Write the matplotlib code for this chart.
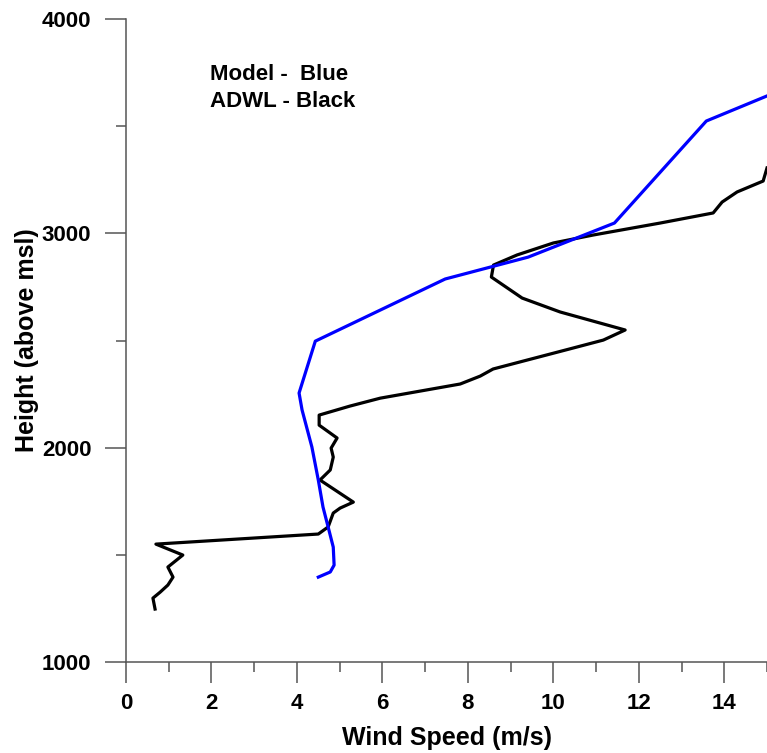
import matplotlib.pyplot as plt
from matplotlib.ticker import MultipleLocator

plt.rcParams['font.family'] = ['Liberation Sans', 'DejaVu Sans']
plt.rcParams['font.weight'] = 'bold'

# model profile (blue)
model_height = [1396, 1420, 1452, 1536, 1630, 1723, 1849, 2003, 2176, 2255,
                2497, 2787, 2889, 3048, 3524, 3641]
model_speed = [4.50, 4.78, 4.87, 4.85, 4.73, 4.61, 4.50, 4.35, 4.12, 4.05,
               4.43, 7.47, 9.41, 11.43, 13.58, 15.0]

# ADWL profile (black)
adwl_height = [1247, 1298, 1326, 1359, 1396, 1443, 1499, 1550, 1597, 1630,
               1695, 1718, 1746, 1849, 1896, 1956, 1998, 2045, 2105, 2152,
               2194, 2231, 2297, 2334, 2367, 2400, 2460, 2502, 2549, 2633,
               2698, 2796, 2852, 2899, 2955, 2992, 3048, 3095, 3146, 3193,
               3244, 3305]
adwl_speed = [0.68, 0.63, 0.80, 0.98, 1.10, 0.98, 1.33, 0.70, 4.50, 4.73,
              4.85, 5.01, 5.32, 4.54, 4.78, 4.85, 4.80, 4.94, 4.52, 4.52,
              5.24, 5.95, 7.82, 8.29, 8.59, 9.22, 10.37, 11.17, 11.68, 10.16,
              9.27, 8.55, 8.60, 9.15, 10.0, 10.93, 12.5, 13.74, 13.95, 14.3,
              14.91, 15.0]

fig = plt.figure(figsize=(7.67, 7.53), dpi=100)
ax = fig.add_axes([126 / 767, 91 / 753, 641 / 767, 643 / 753])

ax.plot(adwl_speed, adwl_height, color='black', linewidth=2.3)
ax.plot(model_speed, model_height, color='#0000ff', linewidth=2.3)

ax.set_xlim(0, 15)
ax.set_ylim(1000, 4000)
ax.xaxis.set_major_locator(MultipleLocator(2))
ax.xaxis.set_minor_locator(MultipleLocator(1))
ax.yaxis.set_major_locator(MultipleLocator(1000))
ax.yaxis.set_minor_locator(MultipleLocator(500))

for side in ['top', 'right']:
    ax.spines[side].set_visible(False)
for side in ['left', 'bottom']:
    ax.spines[side].set_color('#555555')
    ax.spines[side].set_linewidth(1.1)

ax.tick_params(which='major', length=15, width=1.1, color='#555555',
               labelsize=16, direction='out')
ax.tick_params(which='minor', length=7.5, width=1.1, color='#555555',
               direction='out')
ax.tick_params(axis='x', which='major', pad=7)
ax.tick_params(axis='y', which='major', pad=10)
for lab in ax.get_xticklabels() + ax.get_yticklabels():
    lab.set_fontweight('bold')

ax.set_xlabel('Wind Speed (m/s)', fontsize=18, fontweight='bold', labelpad=9)
ax.set_ylabel('Height (above msl)', fontsize=18, fontweight='bold', labelpad=2)

ax.text(1.97, 3739, 'Model -  Blue', fontsize=16, fontweight='bold', va='center')
ax.text(1.97, 3617, 'ADWL - Black', fontsize=16, fontweight='bold', va='center')

fig.savefig('out.png', dpi=100)
